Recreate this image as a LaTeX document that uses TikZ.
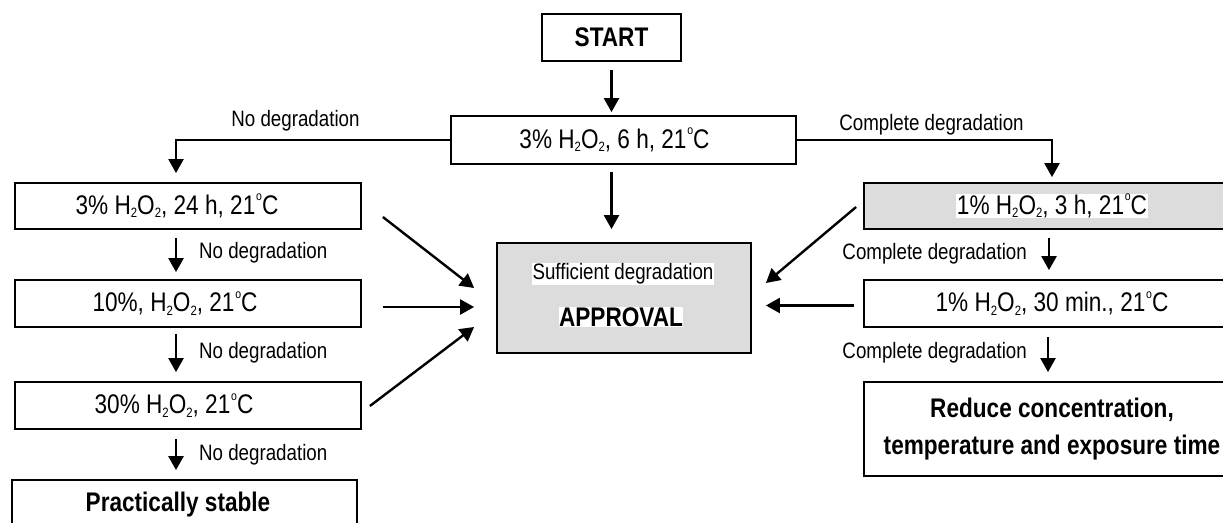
\documentclass[tikz,border=0pt]{standalone}
\usepackage{fontspec}
\setmainfont{Liberation Sans}[FakeStretch=0.84]
\usetikzlibrary{arrows.meta,calc}
\definecolor{boxgray}{HTML}{DCDCDC}
\newcommand\subtwo{\raisebox{-0.13em}{\fontsize{13.5}{13.5}\selectfont 2}}
\newcommand\hoo{H\subtwo O\subtwo}
\newcommand\degc{\kern0.03em\raisebox{0.5em}{\fontsize{12.5}{12.5}\selectfont o}C}
\newcommand\wbg[1]{{\setlength{\fboxsep}{0.5pt}\colorbox{white}{#1}}}
\newcommand\btext{\fontsize{26.9}{31}\selectfont}
\newcommand\ltext{\fontsize{22.3}{26}\selectfont}
\begin{document}
\begin{tikzpicture}[x=1pt,y=-1pt,
  box/.style={draw=black, line width=1.8pt, rectangle, inner sep=0pt, font=\btext},
  lab/.style={font=\ltext, inner sep=0pt},
  arr/.style={line width=2.4pt, -{Triangle[width=15pt,length=14pt]}}]
\useasboundingbox (0,0) rectangle (1223,522);
\clip (0,0) rectangle (1223,522);
% boxes
\node[box, minimum width=139pt, minimum height=47pt, font=\btext\bfseries] (start) at (611.5,37.5) {START};
\node[box, minimum width=345pt, minimum height=48pt] (m1) at (623.5,140) {3\% \hoo, 6 h, 21\degc\hspace*{18pt}};
\node[box, minimum width=346pt, minimum height=46pt] (l1) at (188,206) {3\% \hoo, 24 h, 21\degc\hspace*{22pt}};
\node[box, minimum width=346pt, minimum height=47pt] (l2) at (188,303.5) {10\%, \hoo, 21\degc\hspace*{26pt}};
\node[box, minimum width=346pt, minimum height=47pt] (l3) at (188,405.5) {30\% \hoo, 21\degc\hspace*{28pt}};
\node[box, minimum width=345pt, minimum height=50pt, font=\btext\bfseries] (l4) at (184.5,505) {Practically stable\hspace*{13pt}};
\node[box, fill=boxgray, minimum width=376pt, minimum height=46pt] (r1) at (1052,206) {\wbg{1\% \hoo, 3 h, 21\degc}};
\node[box, minimum width=376pt, minimum height=47pt] (r2) at (1052,303.5) {1\% \hoo, 30 min., 21\degc};
\node[box, minimum width=376pt, minimum height=94pt, align=center, font=\fontsize{26.9}{37}\selectfont\bfseries] (r3) at (1052,429) {Reduce concentration,\\temperature and exposure time};
\node[box, fill=boxgray, minimum width=254pt, minimum height=110pt] (ap) at (624,298) {};
\node[lab, inner sep=0.5pt, fill=white] (ap1) at (623,274) {Sufficient degradation};
\node[font=\btext\bfseries, inner sep=0.5pt, fill=white] (ap2) at (621,317) {APPROVAL};
% labels
\node[lab] (t1) at (295.5,121) {No degradation};
\node[lab] (t2) at (931.5,125) {Complete degradation};
\node[lab, anchor=west] (t3) at (199,253) {No degradation};
\node[lab, anchor=west] (t4) at (199,353) {No degradation};
\node[lab, anchor=west] (t5) at (199,455) {No degradation};
\node[lab, anchor=east] (t6) at (1027,254) {Complete degradation};
\node[lab, anchor=east] (t7) at (1027,353) {Complete degradation};
% connectors
\draw[arr, shorten <=8pt, shorten >=3pt] (start.south) -- (start.south |- m1.north);
\draw[arr, shorten <=7pt, shorten >=13pt] (start.south |- m1.south) -- (start.south |- ap.north);
\draw[arr, shorten >=9pt] (m1.west) -| ($(l1.north)+(-12,0)$);
\draw[arr, shorten >=5pt] (m1.east) -| (r1.north);
\draw[arr, shorten <=8pt, shorten >=7pt] ($(l1.south)+(-12,0)$) -- ($(l2.north)+(-12,0)$);
\draw[arr, shorten <=6pt, shorten >=9pt] ($(l2.south)+(-12,0)$) -- ($(l3.north)+(-12,0)$);
\draw[arr, shorten <=9pt, shorten >=9pt] ($(l3.south)+(-12,0)$) -- ($(l4.north)+(-8.5,0)$);
\draw[arr, shorten <=8pt, shorten >=9pt] ($(r1.south)+(-3,0)$) -- ($(r2.north)+(-3,0)$);
\draw[arr, shorten <=9pt, shorten >=9pt] ($(r2.south)+(-4,0)$) -- ($(r3.north)+(-4,0)$);
\draw[arr] ($(l1.east)+(21,11)$) -- ($(ap.west)+(-22,-10)$);
\draw[arr] ($(l2.east)+(21,3.5)$) -- ($(ap.west)+(-22,9)$);
\draw[arr] ($(l3.east)+(8,0.5)$) -- ($(ap.west)+(-22,29)$);
\draw[arr] ($(r1.west)+(-7,1)$) -- ($(ap.east)+(14,-15)$);
\draw[arr] ($(r2.west)+(-9,2)$) -- ($(ap.east)+(14,7.5)$);
\end{tikzpicture}
\end{document}
